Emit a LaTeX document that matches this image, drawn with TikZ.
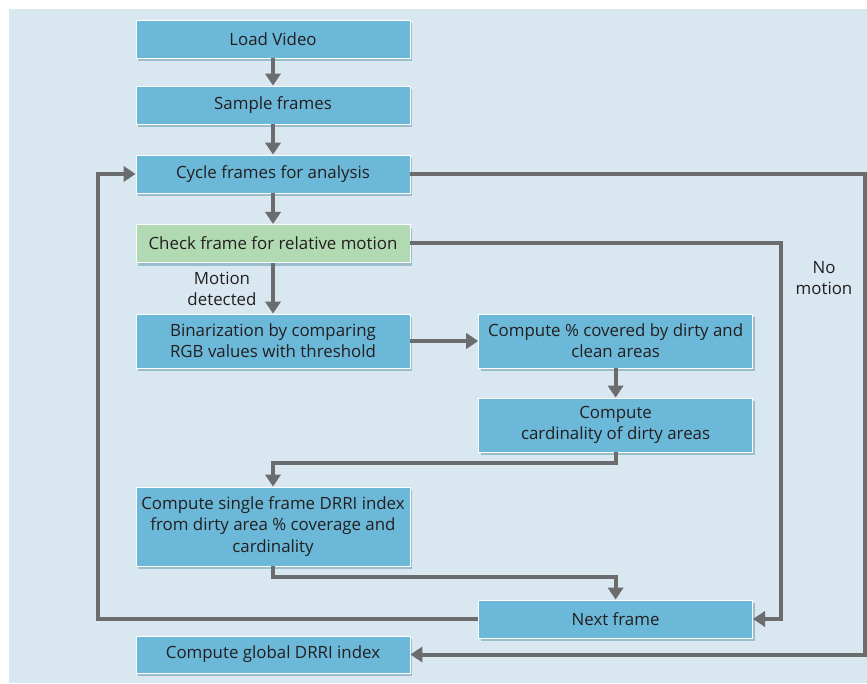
\documentclass[tikz,border=0pt]{standalone}
\usepackage{fontspec}
\setmainfont{Open Sans}
\usetikzlibrary{arrows.meta,shadows}
\definecolor{bgblue}{HTML}{D8E7F0}
\definecolor{boxblue}{HTML}{6CB8D8}
\definecolor{boxgreen}{HTML}{B2DAB2}
\definecolor{linegray}{HTML}{6B6C6E}
\definecolor{txtgray}{HTML}{231F20}

\begin{document}
\begin{tikzpicture}[
	stepbox/.style={draw=white, line width=0.6pt, fill=boxblue, minimum width=6.85cm, minimum height=0.95cm, inner sep=0pt, align=center, text=txtgray, font=\fontsize{12}{15}\selectfont, drop shadow={shadow xshift=0.06cm, shadow yshift=-0.08cm, fill=boxblue!75!black, opacity=0.45}},
	flow/.style={draw=linegray, line width=0.1cm, -{Triangle[length=0.3cm,width=0.38cm]}},
	note/.style={align=center, text=txtgray, font=\fontsize{12}{15}\selectfont}
	]
	\useasboundingbox (0,0) rectangle (21.675,17.075);
	\fill[bgblue] (0.225,0) rectangle (21.675,16.85);
	
	\node[stepbox] (load) at (6.825,16.1) {Load Video};
	\node[stepbox] (sample) at (6.825,14.45) {Sample frames};
	\node[stepbox] (cycle) at (6.825,12.725) {Cycle frames for analysis};
	\node[stepbox, fill=boxgreen] (check) at (6.825,10.99) {Check frame for relative motion};
	\node[stepbox, minimum height=1.35cm] (binar) at (6.825,8.55) {Binarization by comparing\\RGB values with threshold};
	\node[stepbox, minimum height=1.35cm] (cover) at (15.39,8.55) {Compute \% covered by dirty and\\clean areas};
	\node[stepbox, minimum height=1.35cm] (card) at (15.39,6.45) {Compute\\cardinality of dirty areas};
	\node[stepbox, minimum height=1.975cm] (single) at (6.825,3.9125) {Compute single frame DRRI index\\from dirty area \% coverage and\\cardinality};
	\node[stepbox] (next) at (15.39,1.6) {Next frame};
	\node[stepbox, minimum height=0.925cm] (global) at (6.825,0.7125) {Compute global DRRI index};
	
	\node[note] (motion) at (5.55,9.85) {Motion\\detected};
	\node[note] (nomotion) at (20.6,10.125) {No\\motion};
	
	\coordinate (nmcorner) at (19.525,10.99);
	\coordinate (rtcorner) at (21.625,12.725);
	\coordinate (ltcorner) at (2.45,1.6);
	
	\draw[flow] (load) -- (sample);
	\draw[flow] (sample) -- (cycle);
	\draw[flow] (cycle) -- (check);
	\draw[flow] (check) -- (binar);
	\draw[flow] (binar) -- (cover);
	\draw[flow] (cover) -- (card);
	\draw[flow] (card.south) -- ++(0,-0.275) -| (single.north);
	\draw[flow] (single.south) -- ++(0,-0.275) -| (next.north);
	\draw[flow] (check.east) -- (nmcorner) |- (next.east);
	\draw[flow] (cycle.east) -- (rtcorner) |- (global.east);
	\draw[flow] (next.west) -- (ltcorner) |- (cycle.west);
\end{tikzpicture}
\end{document}
